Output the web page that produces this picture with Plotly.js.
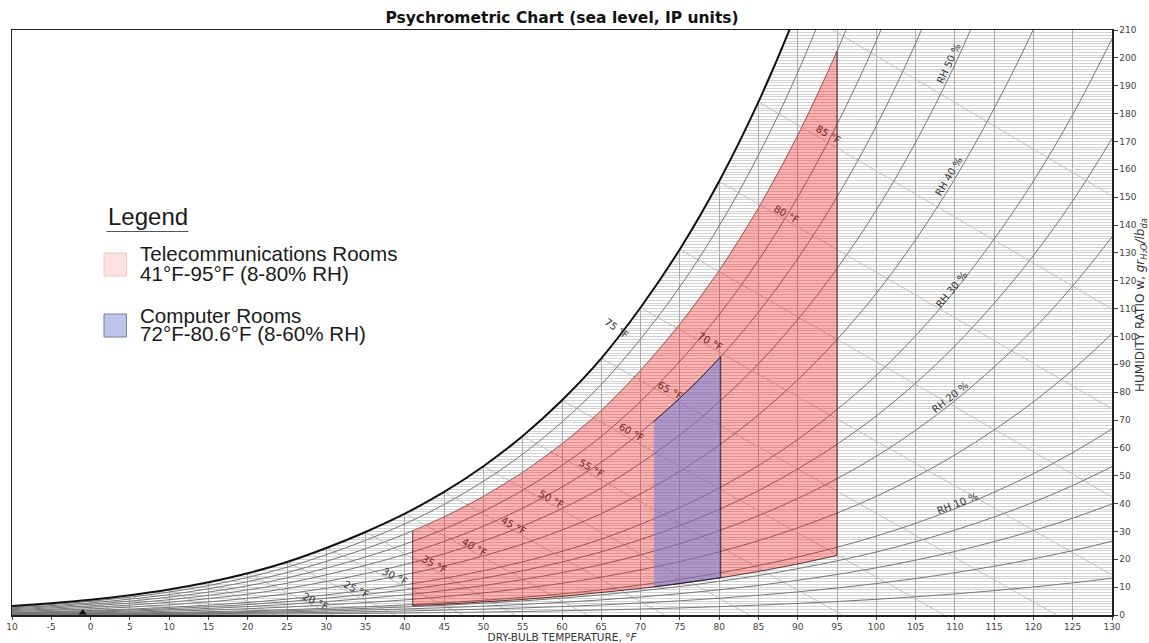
<!DOCTYPE html>
<html>
<head>
<meta charset="utf-8">
<script src="https://cdn.plot.ly/plotly-3.0.1.min.js"></script>
<style>
html,body{margin:0;padding:0;background:#fff;}
#chart{width:1149px;height:643px;}
</style>
</head>
<body>
<div id="chart"></div>
<script>
// ---------- DATA ----------
// Dry-bulb temperature steps, deg F
const dryBulbT = [-10,-5,0,5,10,15,20,25,30,35,40,45,50,55,60,65,70,75,80,85,90,95,100,105,110,115,120,125,130];

// Saturation curve, grains/lb dry air
const satT = [-15,-10,-5,0,5,10,15,20,25,30,35,40,45,50,55,60,65,70,75,80,85,90,95];
const satW = [2.43,3.21,4.21,5.48,7.11,9.15,11.75,14.98,19.03,24.06,29.80,36.37,44.16,53.39,64.28,77.10,92.14,110.38,131.31,155.71,184.20,217.45,255.99];

// Constant relative-humidity curves (grains/lb), on dryBulbT steps
const rhLevels = [90,80,70,60,50,40,30,25,20,15,10,8,6,4,2];
const rh90 = [2.89,3.79,4.93,6.40,8.24,10.58,13.48,17.13,21.65,26.80,32.70,39.70,47.99,57.77,69.27,82.75,99.09,117.82,139.64,165.08,194.73,229.04];
const rh80 = [2.57,3.37,4.38,5.69,7.32,9.40,11.98,15.22,19.25,23.81,29.05,35.26,42.61,51.27,61.46,73.40,87.86,104.42,123.68,146.12,172.24,202.41,237.24];
const rh70 = [2.25,2.95,3.84,4.98,6.41,8.23,10.49,13.32,16.84,20.82,25.40,30.82,37.24,44.80,53.69,64.09,76.68,91.09,107.84,127.32,149.97,176.08,206.18,241.30];
const rh60 = [1.93,2.53,3.29,4.27,5.49,7.05,8.99,11.42,14.44,17.83,21.75,26.39,31.88,38.34,45.93,54.82,65.56,77.85,92.11,108.68,127.92,150.06,175.54,205.20,239.23];
const rh50 = [1.60,2.11,2.74,3.56,4.58,5.88,7.49,9.52,12.03,14.85,18.11,21.97,26.53,31.90,38.21,45.59,54.50,64.68,76.49,90.19,106.08,124.34,145.31,169.67,197.55,229.68];
const rh40 = [1.28,1.68,2.19,2.84,3.66,4.70,5.99,7.61,9.62,11.87,14.48,17.56,21.20,25.49,30.52,36.39,43.49,51.59,60.98,71.86,84.45,98.91,115.47,134.69,156.62,181.83,210.19,242.81];
const rh30 = [0.96,1.26,1.64,2.13,2.75,3.53,4.49,5.71,7.22,8.90,10.85,13.15,15.88,19.09,22.85,27.24,32.54,38.58,45.57,53.67,63.03,73.76,86.04,100.24,116.41,134.96,155.76,179.61,206.80];
const rh25 = [0.80,1.05,1.37,1.78,2.29,2.94,3.75,4.76,6.02,7.41,9.04,10.96,13.23,15.89,19.02,22.68,27.08,32.10,37.91,44.63,52.40,61.30,71.46,83.21,96.58,111.89,129.04,148.65,170.98];
const rh20 = [0.64,0.84,1.10,1.42,1.83,2.35,3.00,3.81,4.81,5.93,7.23,8.76,10.57,12.71,15.20,18.12,21.64,25.64,30.28,35.63,41.82,48.90,56.98,66.32,76.93,89.05,102.62,118.11,135.72];
const rh15 = [0.48,0.63,0.82,1.07,1.37,1.76,2.25,2.85,3.61,4.44,5.42,6.57,7.93,9.52,11.39,13.58,16.21,19.20,22.67,26.67,31.29,36.57,42.60,49.55,57.44,66.45,76.52,87.99,101.00];
const rh10 = [0.32,0.42,0.55,0.71,0.92,1.18,1.50,1.90,2.41,2.96,3.61,4.38,5.28,6.34,7.59,9.04,10.79,12.78,15.09,17.74,20.81,24.31,28.31,32.91,38.13,44.08,50.71,58.27,66.82];
const rh8  = [0.26,0.34,0.44,0.57,0.73,0.94,1.20,1.52,1.92,2.37,2.89,3.50,4.22,5.07,6.07,7.23,8.63,10.22,12.06,14.18,16.63,19.43,22.61,26.29,30.45,35.19,40.48,46.49,53.29];
const rh6  = [0.19,0.25,0.33,0.43,0.55,0.71,0.90,1.14,1.44,1.78,2.17,2.62,3.17,3.80,4.55,5.42,6.47,7.66,9.04,10.63,12.46,14.55,16.94,19.69,22.80,26.34,30.29,34.77,39.85];
const rh4  = [0.13,0.17,0.22,0.28,0.37,0.47,0.60,0.76,0.96,1.18,1.44,1.75,2.11,2.54,3.03,3.61,4.31,5.10,6.02,7.08,8.30,9.69,11.28,13.10,15.17,17.52,20.15,23.12,26.49];
const rh2  = [0.06,0.08,0.11,0.14,0.18,0.24,0.30,0.38,0.48,0.59,0.72,0.87,1.06,1.27,1.52,1.81,2.15,2.55,3.01,3.54,4.15,4.84,5.63,6.54,7.57,8.74,10.05,11.53,13.20];
const rhCurves = [rh90,rh80,rh70,rh60,rh50,rh40,rh30,rh25,rh20,rh15,rh10,rh8,rh6,rh4,rh2];

// Constant wet-bulb lines: start on saturation, end at W=0 or at the chart edge
const wetBulbT  = [-10,-5,0,5,10,15,20,25,30,35,40,45,50,55,60,65,70,75,80,85,90];
const wetStartW = [3.21,4.21,5.48,7.11,9.15,11.75,14.98,19.03,24.06,29.80,36.37,44.16,53.39,64.28,77.10,92.14,110.38,131.31,155.71,184.20,217.45];
const wetEndT   = [-7.67,-1.94,3.98,10.16,16.64,23.53,30.87,38.81,47.45,54.04,63.18,73.07,83.85,95.65,108.63,122.96,130,130,130,130,130];
const wetEndW   = [0,0,0,0,0,0,0,0,0,0,0,0,0,0,0,0,14.4,42.4,74.0,109.8,150.5];

// Wet-bulb labels
const wbLabelText = ["20 °F","25 °F","30 °F","35 °F","40 °F","45 °F","50 °F","55 °F","60 °F","65 °F","70 °F","75 °F","80 °F","85 °F"];
const wbLabelT    = [28.6,33.8,38.75,43.8,48.9,53.8,58.7,63.8,68.9,73.75,78.85,66.95,88.6,93.9];
const wbLabelW    = [4.8,9.2,14.0,18.2,24.2,32.0,41.6,52.7,65.6,80.7,98.3,102.7,143.8,172.5];
const wbLabelInZone = [false,false,false,true,true,true,true,true,true,true,true,false,true,true];

// RH labels
const rhLabelText = ["RH 50 %","RH 40 %","RH 30 %","RH 20 %","RH 10 %"];
const rhLabelT    = [109.2,109.2,109.6,109.4,110.3];
const rhLabelW    = [198.0,157.5,116.8,77.9,40.1];

// Telecommunications rooms zone (41-95 F, 8-80 % RH)
const teleTopT = [41,45,50,55,60,65,70,75,80,85,90,95];
const teleTopW = [30.19,35.26,42.61,51.27,61.46,73.40,87.86,104.42,123.68,146.12,172.24,202.41];
const teleBotT = [95,90,85,80,75,70,65,60,55,50,45,41];
const teleBotW = [21.37,18.3,15.6,13.27,11.24,9.49,7.95,6.68,5.58,4.64,3.85,3.4];

// Computer rooms zone (72-80.6 F, 8-60 % RH)
const compTopT = [71.7,75,77.5,80.2];
const compTopW = [69.5,77.85,84.68,92.72];
const compBotT = [80.2,75,71.7];
const compBotW = [13.4,11.24,10.1];

// Axis ticks and titles
const xTickVals = [-10,-5,0,5,10,15,20,25,30,35,40,45,50,55,60,65,70,75,80,85,90,95,100,105,110,115,120,125,130];
const xTickText = ["10","-5","0","5","10","15","20","25","30","35","40","45","50","55","60","65","70","75","80","85","90","95","100","105","110","115","120","125","130"];
const yTickVals = [0,10,20,30,40,50,60,70,80,90,100,110,120,130,140,150,160,170,180,190,200,210];
const yTitleText = 'HUMIDITY RATIO w, <i>gr<sub>H₂O</sub>/lb<sub>da</sub></i>';

// Legend texts
const legendTitle = "Legend";
const legendItems = [
  ["Telecommunications Rooms","41°F-95°F (8-80% RH)"],
  ["Computer Rooms","72°F-80.6°F (8-60% RH)"]
];

// ---------- TRACES ----------
const traces = [];

// white area above the saturation curve (hides the grid there)
traces.push({
  x: satT.concat([satT[satT.length-1], satT[0]]),
  y: satW.concat([300, 300]),
  mode: 'lines', fill: 'toself', fillcolor: '#ffffff',
  line: {width: 0, color: '#ffffff', shape: 'spline'}, hoverinfo: 'skip', showlegend: false
});

// wet-bulb lines
const wbx = [], wby = [];
wetBulbT.forEach((t, i) => { wbx.push(t, wetEndT[i], null); wby.push(wetStartW[i], wetEndW[i], null); });
traces.push({x: wbx, y: wby, mode: 'lines', line: {color: '#c2c2c2', width: 1}, hoverinfo: 'skip', showlegend: false});

// RH curves
rhCurves.forEach((arr, i) => {
  traces.push({
    x: dryBulbT.slice(0, arr.length), y: arr, mode: 'lines',
    line: {color: '#777777', width: 1, shape: 'spline'},
    hoverinfo: 'skip', showlegend: false, name: 'RH ' + rhLevels[i] + '%'
  });
});

// saturation
traces.push({x: satT, y: satW, mode: 'lines', line: {color: '#111', width: 2, shape: 'spline'}, hoverinfo: 'skip', showlegend: false});

// telecom zone: fill, then outline of left, bottom and right edges
traces.push({
  x: teleTopT.concat(teleBotT), y: teleTopW.concat(teleBotW),
  mode: 'lines', fill: 'toself', fillcolor: 'rgba(255,0,0,0.30)',
  line: {width: 0, color: 'rgba(0,0,0,0)'}, hoverinfo: 'skip', showlegend: false
});
traces.push({
  x: [teleTopT[teleTopT.length-1]].concat(teleBotT, [teleTopT[0]]),
  y: [teleTopW[teleTopW.length-1]].concat(teleBotW, [teleTopW[0]]),
  mode: 'lines', line: {color: 'rgba(40,0,0,0.75)', width: 1}, hoverinfo: 'skip', showlegend: false
});
// computer zone
traces.push({
  x: compTopT.concat(compBotT), y: compTopW.concat(compBotW),
  mode: 'lines', fill: 'toself', fillcolor: 'rgba(100,125,225,0.50)',
  line: {color: 'rgba(20,20,40,0.8)', width: 1}, hoverinfo: 'skip', showlegend: false
});
// small marker on the axis
traces.push({x: [-1], y: [0.8], mode: 'markers', marker: {symbol: 'triangle-up', size: 7, color: '#111'}, hoverinfo: 'skip', showlegend: false});

// ---------- ANNOTATIONS ----------
const ann = [];
const pxPerF = 1100 / 140, pxPerGr = 585 / 210;
wbLabelText.forEach((txt, i) => {
  const k = wetBulbT.indexOf(parseInt(txt));
  const slope = (wetStartW[k] - wetEndW[k]) / (wetEndT[k] - wetBulbT[k]);
  let ang = Math.atan(slope * pxPerGr / pxPerF) * 180 / Math.PI;
  if (txt === "75 °F") ang = 36;
  ann.push({
    x: wbLabelT[i], y: wbLabelW[i], xref: 'x', yref: 'y', text: txt, showarrow: false,
    textangle: ang, font: {family: 'DejaVu Sans', size: 10, color: wbLabelInZone[i] ? '#6e2222' : '#333333'}
  });
});
rhLabelText.forEach((txt, i) => {
  const lvl = parseInt(txt.replace('RH ', ''));
  const arr = rhCurves[rhLevels.indexOf(lvl)];
  const j = dryBulbT.indexOf(110);
  const slope = (arr[j+1] - arr[j-1]) / 10;
  const ang = -Math.atan(slope * pxPerGr / pxPerF) * 180 / Math.PI;
  ann.push({
    x: rhLabelT[i], y: rhLabelW[i], xref: 'x', yref: 'y', text: txt, showarrow: false,
    textangle: ang, font: {family: 'DejaVu Sans', size: 10, color: '#333333'}
  });
});

// pixel -> paper helpers
const px2x = p => (p - 12) / 1100;
const py2y = p => (615 - p) / 585;

// y-axis title (right side, reads bottom to top)
ann.push({x: px2x(1141), y: py2y(305), xref: 'paper', yref: 'paper', xanchor: 'center', yanchor: 'middle',
  text: yTitleText, textangle: -90, showarrow: false, font: {family: 'DejaVu Sans', size: 12, color: '#333'}});

// legend
const legFont = {family: 'Liberation Sans, Arial, sans-serif', size: 20.6, color: '#1a1a1a'};
ann.push({x: px2x(105.5), y: py2y(217), xref: 'paper', yref: 'paper', xanchor: 'left', yanchor: 'middle', text: legendTitle, showarrow: false, font: {family: 'Liberation Sans, Arial, sans-serif', size: 24, color: '#1a1a1a'}});
const lineY = [[254, 273.5], [315, 333.5]];
legendItems.forEach((it, i) => {
  ann.push({x: px2x(138), y: py2y(lineY[i][0]), xref: 'paper', yref: 'paper', xanchor: 'left', yanchor: 'middle', text: it[0], showarrow: false, font: legFont});
  ann.push({x: px2x(138), y: py2y(lineY[i][1]), xref: 'paper', yref: 'paper', xanchor: 'left', yanchor: 'middle', text: it[1], showarrow: false, font: legFont});
});

const shapes = [
  {type: 'line', xref: 'paper', yref: 'paper', x0: px2x(106.5), x1: px2x(188.5), y0: py2y(231.5), y1: py2y(231.5), line: {color: '#555', width: 1}},
  {type: 'rect', xref: 'paper', yref: 'paper', x0: px2x(104), x1: px2x(126.5), y0: py2y(276), y1: py2y(253), fillcolor: '#ffe1e1', line: {color: '#e8caca', width: 1}},
  {type: 'rect', xref: 'paper', yref: 'paper', x0: px2x(104), x1: px2x(126.5), y0: py2y(337), y1: py2y(314), fillcolor: '#bcc5ea', line: {color: '#7c7f99', width: 1}}
];

const layout = {
  width: 1149, height: 643,
  margin: {l: 12, r: 37, t: 30, b: 28, pad: 0},
  paper_bgcolor: '#ffffff', plot_bgcolor: '#ffffff',
  showlegend: false, hovermode: false,
  title: {
    text: '<b>Psychrometric Chart (sea level, IP units)</b>',
    font: {family: 'DejaVu Sans', size: 15.5, color: '#111'},
    x: 0.5, xref: 'paper', xanchor: 'center', y: 1 - 18/643, yref: 'container', yanchor: 'middle'
  },
  xaxis: {
    range: [-10, 130], tickvals: xTickVals, ticktext: xTickText,
    showgrid: true, gridcolor: '#a9a9a9', gridwidth: 1, zeroline: false,
    showline: true, linecolor: '#222', linewidth: 1.5, mirror: true,
    ticks: 'outside', ticklen: 3, tickcolor: '#444',
    tickfont: {family: 'DejaVu Sans', size: 9, color: '#444'},
    automargin: false,
    title: {text: 'DRY-BULB TEMPERATURE, °<i>F</i>', font: {family: 'DejaVu Sans', size: 10.5, color: '#333'}, standoff: 2}
  },
  yaxis: {
    range: [0, 210], side: 'right', tickvals: yTickVals,
    showgrid: true, gridcolor: '#cfcfcf', gridwidth: 1, zeroline: false,
    minor: {dtick: 1, tick0: 0, showgrid: true, gridcolor: '#d2d2d2', gridwidth: 1},
    showline: true, linecolor: '#222', linewidth: 1.5, mirror: true,
    ticks: 'outside', ticklen: 4, tickcolor: '#444',
    tickfont: {family: 'DejaVu Sans', size: 9, color: '#444'},
    automargin: false
  },
  annotations: ann,
  shapes: shapes
};

Plotly.newPlot('chart', traces, layout, {displayModeBar: false, staticPlot: true});
</script>
</body>
</html>
